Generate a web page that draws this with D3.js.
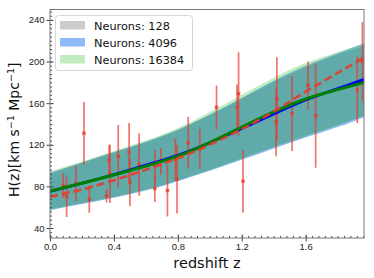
<!DOCTYPE html>
<html>
<head>
<meta charset="utf-8">
<script src="https://d3js.org/d3.v7.min.js"></script>
<style>
body { margin: 0; background: #fff; }
svg { font-family: 'DejaVu Sans', sans-serif; }
.tick text { font-size: 9.5px; fill: #222; }
.tick line { stroke: #444; }
</style>
</head>
<body>
<svg width="374" height="278"></svg>
<script>

// redshift grid used for the fitted curves and bands
var zGrid = [0, 0.2, 0.4, 0.6, 0.8, 1.0, 1.2, 1.4, 1.6, 1.8, 1.965];

// reconstruction bands (upper / lower) for each network size
var grayUp   = [92.5, 102.5, 112.5, 122.5, 134, 148.5, 164.5, 180.5, 194.5, 206.5, 215];
var grayLo   = [58, 64, 70, 77, 86, 96, 107, 118, 129, 139, 148];
var blueUp   = [93, 103, 113, 123, 134.5, 149, 165, 181.5, 196, 208, 217.5];
var blueLo   = [57, 63, 69, 76, 85, 95, 105.5, 116.5, 127, 137, 146.5];
var greenUp  = [94.5, 104, 114, 124, 136, 151.5, 168, 184.5, 198.5, 209, 216.5];
var greenLo  = [57.5, 63.5, 69.5, 76.5, 85.5, 95.5, 106.5, 117.5, 128, 138.5, 148];

// mean reconstructed H(z)
var blackMean = [75.5, 83, 91.2, 100, 109.5, 122, 136.5, 150.5, 163.5, 173.5, 181];
var blueMean  = [75, 83, 91.5, 100.5, 110, 122, 135.5, 149.5, 163, 174, 183];
var greenMean = [75.5, 83, 91, 99.5, 109, 122, 137, 151.5, 164, 173, 180];

// reference model (dashed)
var refH = [70, 77, 86, 96, 107, 120, 135, 152, 171, 189, 204];

// observed H(z) points
var zData = [0.083, 0.104, 0.1625, 0.2125, 0.246, 0.354, 0.37, 0.375, 0.427, 0.495, 0.50,
             0.558, 0.656, 0.656, 0.694, 0.735, 0.785, 0.795, 0.865, 0.9375, 1.042,
             1.171, 1.18, 1.208, 1.415, 1.42, 1.515, 1.615, 1.6625, 1.923, 1.955];
var hData = [81, 70, 83, 131, 67.6, 71, 105, 92, 109, 113, 84,
             101, 100, 78, 104, 76, 106, 87, 122, 116, 156,
             156, 169, 85, 142, 164, 150, 177, 148, 173, 200];
var errData = [12, 19.5, 17, 30, 13, 6.5, 15, 28, 30, 28, 23,
               30, 15, 13, 13, 25, 20, 33, 25, 19, 21,
               22, 40, 30, 33, 40, 36, 23, 50, 32, 38];

var xTicks = [0.0, 0.4, 0.8, 1.2, 1.6];
var yTicks = [40, 80, 120, 160, 200, 240];
var legendLabels = ['Neurons: 128', 'Neurons: 4096', 'Neurons: 16384'];

var mLeft = 50, mRight = 364, mTop = 9.5, mBottom = 238;

var x = d3.scaleLinear().domain([0, 1.965]).range([mLeft, mRight]);
var y = d3.scaleLinear().domain([30.4, 250]).range([mBottom, mTop]);

var svg = d3.select('svg');

svg.append('clipPath').attr('id', 'clip')
  .append('rect').attr('x', mLeft).attr('y', mTop)
  .attr('width', mRight - mLeft).attr('height', mBottom - mTop);

var plot = svg.append('g').attr('clip-path', 'url(#clip)');

function band(up, lo) {
  return d3.area()
    .x(function(d, i) { return x(zGrid[i]); })
    .y0(function(d, i) { return y(lo[i]); })
    .y1(function(d, i) { return y(up[i]); })
    .curve(d3.curveNatural)(zGrid);
}
function line(vals) {
  return d3.line()
    .x(function(d, i) { return x(zGrid[i]); })
    .y(function(d, i) { return y(vals[i]); })
    .curve(d3.curveNatural)(zGrid);
}

plot.append('path').attr('d', band(grayUp, grayLo)).attr('fill', '#808080').attr('fill-opacity', 0.4);
plot.append('path').attr('d', band(blueUp, blueLo)).attr('fill', '#1e78f0').attr('fill-opacity', 0.5);
plot.append('path').attr('d', band(greenUp, greenLo)).attr('fill', '#32be32').attr('fill-opacity', 0.3);

// error bars
var pts = plot.append('g');
pts.selectAll('line')
  .data(zData)
  .enter().append('line')
  .attr('x1', function(d) { return x(d); })
  .attr('x2', function(d) { return x(d); })
  .attr('y1', function(d, i) { return y(hData[i] + errData[i]); })
  .attr('y2', function(d, i) { return y(hData[i] - errData[i]); })
  .attr('stroke', '#e8392c')
  .attr('stroke-opacity', 0.7)
  .attr('stroke-width', 1.7);
pts.selectAll('rect')
  .data(zData)
  .enter().append('rect')
  .attr('x', function(d) { return x(d) - 1.7; })
  .attr('y', function(d, i) { return y(hData[i]) - 1.7; })
  .attr('width', 3.4).attr('height', 3.4)
  .attr('fill', '#e8392c')
  .attr('fill-opacity', 0.8);

plot.append('path').attr('d', line(blackMean)).attr('fill', 'none').attr('stroke', '#000').attr('stroke-width', 2);
plot.append('path').attr('d', line(blueMean)).attr('fill', 'none').attr('stroke', '#0000ff').attr('stroke-width', 2.6);
plot.append('path').attr('d', line(greenMean)).attr('fill', 'none').attr('stroke', '#008000').attr('stroke-width', 3);
plot.append('path').attr('d', line(refH)).attr('fill', 'none')
  .attr('stroke', '#e8392c').attr('stroke-opacity', 0.9)
  .attr('stroke-width', 2.6).attr('stroke-dasharray', '8,4');

// axes
var xMinor = d3.range(0, 1.97, 0.04);
var yMinor = d3.range(32, 250, 4);

svg.append('g').attr('transform', 'translate(0,' + mBottom + ')')
  .call(d3.axisBottom(x).tickValues(xMinor).tickSize(-2).tickFormat(''))
  .call(function(g) { g.select('.domain').remove(); });
svg.append('g').attr('transform', 'translate(' + mLeft + ',0)')
  .call(d3.axisLeft(y).tickValues(yMinor).tickSize(-2).tickFormat(''))
  .call(function(g) { g.select('.domain').remove(); });

var xa = svg.append('g').attr('transform', 'translate(0,' + mBottom + ')')
  .call(d3.axisBottom(x).tickValues(xTicks).tickSize(3.5).tickPadding(2).tickFormat(d3.format('.1f')));
xa.select('.domain').remove();
xa.selectAll('.tick').append('line').attr('y2', -3.5).attr('stroke', '#444');

var ya = svg.append('g').attr('transform', 'translate(' + mLeft + ',0)')
  .call(d3.axisLeft(y).tickValues(yTicks).tickSize(3.5).tickPadding(2));
ya.select('.domain').remove();
ya.selectAll('.tick').append('line').attr('x2', 3.5).attr('stroke', '#444');

svg.append('rect')
  .attr('x', mLeft).attr('y', mTop)
  .attr('width', mRight - mLeft).attr('height', mBottom - mTop)
  .attr('fill', 'none').attr('stroke', '#777').attr('stroke-width', 1);

// axis labels
svg.append('text')
  .attr('x', (mLeft + mRight) / 2).attr('y', 268)
  .attr('text-anchor', 'middle')
  .style('font-size', '14.5px').attr('fill', '#111')
  .text('redshift z');

var yl = svg.append('text')
  .attr('transform', 'translate(19,' + ((mTop + mBottom) / 2 + 6) + ') rotate(-90)')
  .attr('text-anchor', 'middle')
  .style('font-size', '14px').attr('fill', '#111');
yl.append('tspan').text('H(z)[km s');
yl.append('tspan').attr('dy', -5).style('font-size', '9.5px').text('\u22121');
yl.append('tspan').attr('dy', 5).text(' Mpc');
yl.append('tspan').attr('dy', -5).style('font-size', '9.5px').text('\u22121');
yl.append('tspan').attr('dy', 5).text(']');

// legend
var leg = svg.append('g');
leg.append('rect')
  .attr('x', 55.5).attr('y', 15.5).attr('width', 137).attr('height', 55)
  .attr('rx', 3)
  .attr('fill', '#fff').attr('fill-opacity', 0.85)
  .attr('stroke', '#d6d6d6');
var swatchFill = ['#808080', '#1e78f0', '#32be32'];
var swatchOp = [0.4, 0.5, 0.3];
leg.selectAll('.sw')
  .data(legendLabels)
  .enter().append('rect')
  .attr('x', 60).attr('y', function(d, i) { return 21 + i * 17; })
  .attr('width', 25).attr('height', 8.5)
  .attr('fill', function(d, i) { return swatchFill[i]; })
  .attr('fill-opacity', function(d, i) { return swatchOp[i]; });
leg.selectAll('.lt')
  .data(legendLabels)
  .enter().append('text')
  .attr('x', 94).attr('y', function(d, i) { return 29.5 + i * 17; })
  .style('font-size', '11.3px').attr('fill', '#111')
  .text(function(d) { return d; });

</script>
</body>
</html>
